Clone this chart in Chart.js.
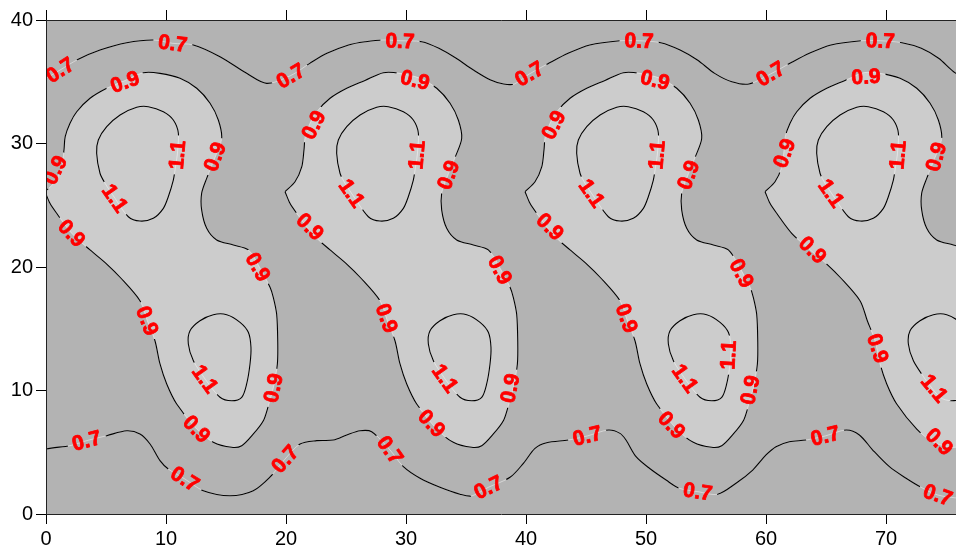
<!DOCTYPE html>
<html>
<head>
<meta charset="utf-8">
<script src="https://cdn.jsdelivr.net/npm/chart.js@4.4.0/dist/chart.umd.min.js"></script>
<style>
  html, body { margin: 0; padding: 0; background: #ffffff; }
  #wrap { width: 956px; height: 550px; }
</style>
</head>
<body>
<div id="wrap"><canvas id="chart" width="956" height="550"></canvas></div>
<script>
// axis ticks
const xTickValues = [0, 10, 20, 30, 40, 50, 60, 70];
const yTickValues = [0, 10, 20, 30, 40];
const xMax = 75.83;

// upper 0.7 contour, read across the whole width
const topX = [-1, 0, 1.17, 2.69, 4.5, 6.72, 8.94, 10.56, 12.28, 14.5, 16.72, 18.39, 20.39, 21.98, 23.41, 25.21,
  26.64, 28.08, 29.51, 31.31, 32.74, 34.18, 35.62, 37.05, 38.13, 39.03, 40.28, 41.89, 43.51, 45.31, 47.82,
  49.43, 51.23, 52.84, 54.28, 55.72, 57.15, 58.58, 60.38, 61.99, 63.61, 65.41, 67.92, 69.53, 71.33, 72.94,
  74.38, 75.63, 77];
const topY = [35.0, 35.3, 35.95, 36.82, 37.57, 38.16, 38.38, 38.11, 37.98, 37.03, 35.68, 34.87, 35.5, 36.49, 37.3, 37.98,
  38.24, 38.38, 38.32, 38.24, 37.71, 36.9, 35.95, 35.14, 34.82, 34.82, 35.63, 36.49, 37.3, 37.98, 38.32,
  38.32, 38.16, 37.57, 36.76, 35.68, 35.0, 34.82, 35.63, 36.49, 37.3, 37.98, 38.32, 38.32, 38.16, 37.71,
  36.9, 35.81, 35.0];

// lower 0.7 contour
const botX = [-1, 0, 2.0, 3.39, 5.06, 6.72, 7.83, 8.67, 9.5, 10.19, 11.58, 13.11, 15.33, 17.27, 18.67, 19.92,
  21.17, 22.56, 23.94, 25.06, 26.17, 27.14, 28.67, 29.78, 31.17, 32.83, 34.5, 35.47, 36.86, 38.67, 39.78,
  40.75, 41.72, 43.53, 45.11, 46.86, 47.83, 48.33, 49.17, 50.28, 51.67, 52.78, 54.31, 55.97, 57.5, 58.89,
  60.0, 60.83, 61.94, 63.33, 64.94, 66.67, 67.78, 68.89, 70.28, 71.67, 72.92, 74.31, 75.83, 77];
const botY = [4.8, 5.26, 5.53, 5.94, 6.34, 6.74, 6.48, 5.67, 4.32, 3.64, 2.83, 1.89, 1.48, 1.89, 3.0, 4.45,
  5.67, 5.94, 5.99, 6.4, 6.74, 6.66, 5.18, 3.83, 2.89, 2.16, 1.6, 1.46, 2.16, 2.97, 4.1,
  5.32, 5.77, 5.99, 6.32, 6.8, 6.53, 5.99, 4.64, 3.7, 2.75, 2.08, 1.81, 1.6, 2.49, 3.56,
  4.78, 5.45, 5.85, 5.99, 6.32, 6.8, 6.4, 5.18, 3.83, 2.89, 2.16, 1.54, 1.3, 1.2];

// one blob (0.9 outline and two 1.1 loops) as read at x = 0..20; the same blob sits at each start below
const blobStart = [0, 20, 40, 60];
const loop09X = [-0.08, 0.75, 1.31, 1.5, 1.6, 2.0, 2.56, 3.67, 5.06, 6.58, 8.11, 9.5, 11.17, 12.56, 13.67, 14.36,
  14.64, 14.1, 13.39, 12.97, 12.97, 13.39, 14.22, 15.61, 16.86, 17.83, 18.67, 18.94, 19.22, 19.31, 19.28,
  18.94, 18.53, 18.11, 17.28, 16.31, 15.47, 13.94, 12.56, 10.89, 10.06, 9.5, 9.08, 8.44, 7.83, 6.17, 5.06,
  3.67, 2.14, 0.89, 0.33, -0.08];
const loop09Y = [26.1, 26.9, 28.1, 29.5, 30.55, 31.64, 32.57, 33.66, 34.47, 35.1, 35.73, 35.68, 35.28, 34.47, 33.26, 31.9,
  30.42, 28.9, 27.18, 25.97, 24.62, 23.13, 22.19, 21.78, 21.38, 19.92, 18.36, 17.55, 16.19, 14.03, 12.15,
  10.2, 8.77, 7.55, 6.48, 5.53, 5.4, 5.81, 6.88, 8.91, 10.53, 12.15, 14.03, 15.65, 17.27, 19.17, 20.24,
  21.38, 22.73, 24.35, 25.16, 26.1];
const loop11aX = [10.94, 11.03, 10.61, 9.78, 8.53, 7.56, 6.17, 5.06, 4.36, 4.22, 4.5, 4.92, 5.75, 6.86, 7.83,
  8.94, 9.78, 10.19, 10.61, 10.75, 10.94];
const loop11aY = [29.07, 30.83, 31.9, 32.57, 32.98, 32.93, 32.31, 31.36, 30.28, 29.21, 27.59, 26.78, 25.56, 24.07, 23.72,
  23.94, 24.75, 25.69, 27.04, 27.85, 29.07];
const loop11bX = [13.25, 12.28, 11.86, 12.0, 12.83, 13.94, 15.06, 16.17, 16.86, 17.08, 17.0, 16.72, 16.31, 15.47, 14.5, 13.25];
const loop11bY = [10.93, 12.41, 13.77, 14.84, 15.65, 16.14, 16.14, 15.52, 14.71, 13.5, 12.15, 10.53, 9.45, 9.17, 9.45, 10.93];

// contour labels
const labelText = [
  '0.7', '0.7', '0.7', '0.7', '0.7', '0.7', '0.7', '0.7',
  '0.7', '0.7', '0.7', '0.7', '0.7', '0.7', '0.7', '0.7', '0.7',
  '0.9', '0.9', '0.9', '0.9', '0.9', '0.9', '0.9', '0.9', '1.1', '1.1', '1.1',
  '0.9', '0.9', '1.1', '1.1', '0.9', '0.9', '0.9', '0.9', '1.1', '0.9', '0.9',
  '0.9', '0.9', '1.1', '1.1', '0.9', '0.9', '0.9', '0.9', '1.1', '1.1', '0.9', '0.9',
  '0.9', '0.9', '1.1', '1.1', '0.9', '0.9', '0.9', '1.1', '0.9'
];
const labelX = [
  1.17, 10.56, 20.39, 29.5, 40.28, 49.43, 60.38, 69.53,
  3.39, 11.58, 19.92, 28.67, 36.86, 45.11, 54.31, 64.94, 74.31,
  6.58, 0.75, 2.14, 14.08, 17.67, 8.44, 12.56, 18.94, 10.94, 5.75, 13.25,
  30.75, 22.3, 30.89, 25.47, 33.53, 22.0, 37.83, 28.39, 33.25, 38.67, 32.14,
  50.75, 42.3, 50.89, 45.47, 53.53, 42.0, 57.97, 48.39, 56.86, 53.25, 58.67, 52.14,
  68.33, 61.53, 70.97, 65.42, 74.17, 63.89, 69.31, 74.03, 74.44
];
const labelY = [
  35.95, 38.11, 35.47, 38.3, 35.63, 38.32, 35.63, 38.32,
  5.94, 2.83, 4.45, 5.18, 2.16, 6.32, 1.81, 6.32, 1.54,
  35.0, 27.85, 22.73, 28.93, 20.0, 15.65, 6.88, 10.2, 29.07, 25.56, 10.93,
  35.14, 31.5, 29.07, 25.97, 27.45, 23.26, 19.76, 15.85, 10.99, 10.18, 7.34,
  35.14, 31.5, 29.07, 25.97, 27.45, 23.26, 19.49, 15.85, 12.87, 10.99, 10.04, 7.21,
  35.41, 29.21, 29.07, 25.97, 28.93, 21.38, 13.42, 10.18, 5.85
];
const labelAngle = [
  -33, 7, -30, 2, -31, 2, -31, 2,
  -15, 32, -48, 55, -26, -14, 9, -14, 20,
  -20, -63, 46, -70, 60, 69, 46, -78, -85, 55, 54,
  14, -63, -85, 55, -70, 45, 62, 70, 54, -78, 46,
  14, -63, -85, 55, -70, 45, 62, 70, -87, 54, -78, 46,
  -3, -70, -85, 55, -75, 45, 72, 50, 45
];

const fontFamily = '"Liberation Sans", Arial, sans-serif';
const labelFont = 'bold 21px ' + fontFamily;

function pts(xs, ys, dx) {
  return xs.map((x, i) => ({ x: x + dx, y: ys[i] }));
}

const datasets = [];
blobStart.forEach(dx => {
  datasets.push({ data: pts(loop09X, loop09Y, dx), fill: 'shape', backgroundColor: '#cccccc', borderWidth: 0, order: 10 });
});
function addContour(xs, ys, dx, level) {
  // faint light trace that shows through the label gaps
  datasets.push({ data: pts(xs, ys, dx), borderColor: 'rgba(255,255,255,0.45)', borderWidth: 1, order: 5 });
  datasets.push({ data: pts(xs, ys, dx), borderColor: '#000000', borderWidth: 1.1, order: 1, level: level });
}
addContour(topX, topY, 0, '0.7');
addContour(botX, botY, 0, '0.7');
blobStart.forEach(dx => {
  addContour(loop09X, loop09Y, dx, '0.9');
  addContour(loop11aX, loop11aY, dx, '1.1');
  addContour(loop11bX, loop11bY, dx, '1.1');
});

function labelPixel(chart, i) {
  return [chart.scales.x.getPixelForValue(labelX[i]), chart.scales.y.getPixelForValue(labelY[i])];
}

const contourPlugin = {
  id: 'contour',
  beforeDraw(chart) {
    const { ctx, chartArea: a } = chart;
    ctx.save();
    ctx.fillStyle = '#b3b3b3';
    ctx.fillRect(a.left, a.top, a.right - a.left, a.bottom - a.top);
    ctx.restore();
  },
  beforeDatasetDraw(chart, args) {
    const ds = chart.data.datasets[args.index];
    if (!ds.level) return;
    const { ctx, chartArea: a } = chart;
    ctx.save();
    ctx.font = labelFont;
    ctx.beginPath();
    ctx.rect(a.left - 5, a.top - 5, a.right - a.left + 10, a.bottom - a.top + 10);
    labelText.forEach((t, i) => {
      if (t !== ds.level) return;
      const w = ctx.measureText(t).width + 10, h = 16;
      const [px, py] = labelPixel(chart, i);
      const r = labelAngle[i] * Math.PI / 180, c = Math.cos(r), s = Math.sin(r);
      [[-w / 2, -h / 2], [w / 2, -h / 2], [w / 2, h / 2], [-w / 2, h / 2]].forEach(([u, v], k) => {
        const X = px + u * c - v * s, Y = py + u * s + v * c;
        if (k === 0) ctx.moveTo(X, Y); else ctx.lineTo(X, Y);
      });
      ctx.closePath();
    });
    ctx.clip('evenodd');
  },
  afterDatasetDraw(chart, args) {
    if (chart.data.datasets[args.index].level) chart.ctx.restore();
  },
  afterDatasetsDraw(chart) {
    const { ctx, chartArea: a } = chart;
    ctx.save();
    ctx.beginPath();
    ctx.rect(a.left, a.top, a.right - a.left, a.bottom - a.top);
    ctx.clip();
    ctx.font = labelFont;
    ctx.fillStyle = '#ff0000';
    ctx.strokeStyle = '#ff0000';
    ctx.lineWidth = 0.8;
    ctx.lineJoin = 'round';
    ctx.textAlign = 'center';
    ctx.textBaseline = 'middle';
    labelText.forEach((t, i) => {
      const [px, py] = labelPixel(chart, i);
      ctx.save();
      ctx.translate(px, py);
      ctx.rotate(labelAngle[i] * Math.PI / 180);
      ctx.fillText(t, 0, 1);
      ctx.strokeText(t, 0, 1);
      ctx.restore();
    });
    ctx.restore();
  }
};

const tickFont = { family: fontFamily, size: 20 };
const axisGrid = { drawOnChartArea: false, tickLength: 10, color: '#000000', lineWidth: 1 };
const axisBorder = { display: true, color: '#222222', width: 1, z: 1 };

new Chart(document.getElementById('chart'), {
  type: 'scatter',
  data: { datasets: datasets },
  options: {
    responsive: false,
    animation: false,
    events: [],
    layout: { padding: 0 },
    datasets: { scatter: { showLine: true, pointRadius: 0, tension: 0.3, capBezierPoints: false } },
    elements: { line: { capBezierPoints: false } },
    plugins: { legend: { display: false }, tooltip: { enabled: false } },
    scales: {
      x: {
        type: 'linear', position: 'bottom', min: 0, max: xMax,
        afterBuildTicks: s => { s.ticks = xTickValues.map(v => ({ value: v })); },
        afterFit: s => { s.height = 36; },
        grid: axisGrid, border: axisBorder,
        ticks: { color: '#000000', font: tickFont, padding: 3, maxRotation: 0, autoSkip: false }
      },
      xTop: {
        type: 'linear', position: 'top', min: 0, max: xMax,
        afterBuildTicks: s => { s.ticks = xTickValues.map(v => ({ value: v })); },
        afterFit: s => { s.height = 20; },
        grid: axisGrid, border: axisBorder,
        ticks: { display: false }
      },
      y: {
        type: 'linear', position: 'left', min: 0, max: 40,
        afterBuildTicks: s => { s.ticks = yTickValues.map(v => ({ value: v })); },
        afterFit: s => { s.width = 46; },
        grid: axisGrid, border: axisBorder,
        ticks: { color: '#000000', font: tickFont, padding: 3, autoSkip: false }
      }
    }
  },
  plugins: [contourPlugin]
});
</script>
</body>
</html>
